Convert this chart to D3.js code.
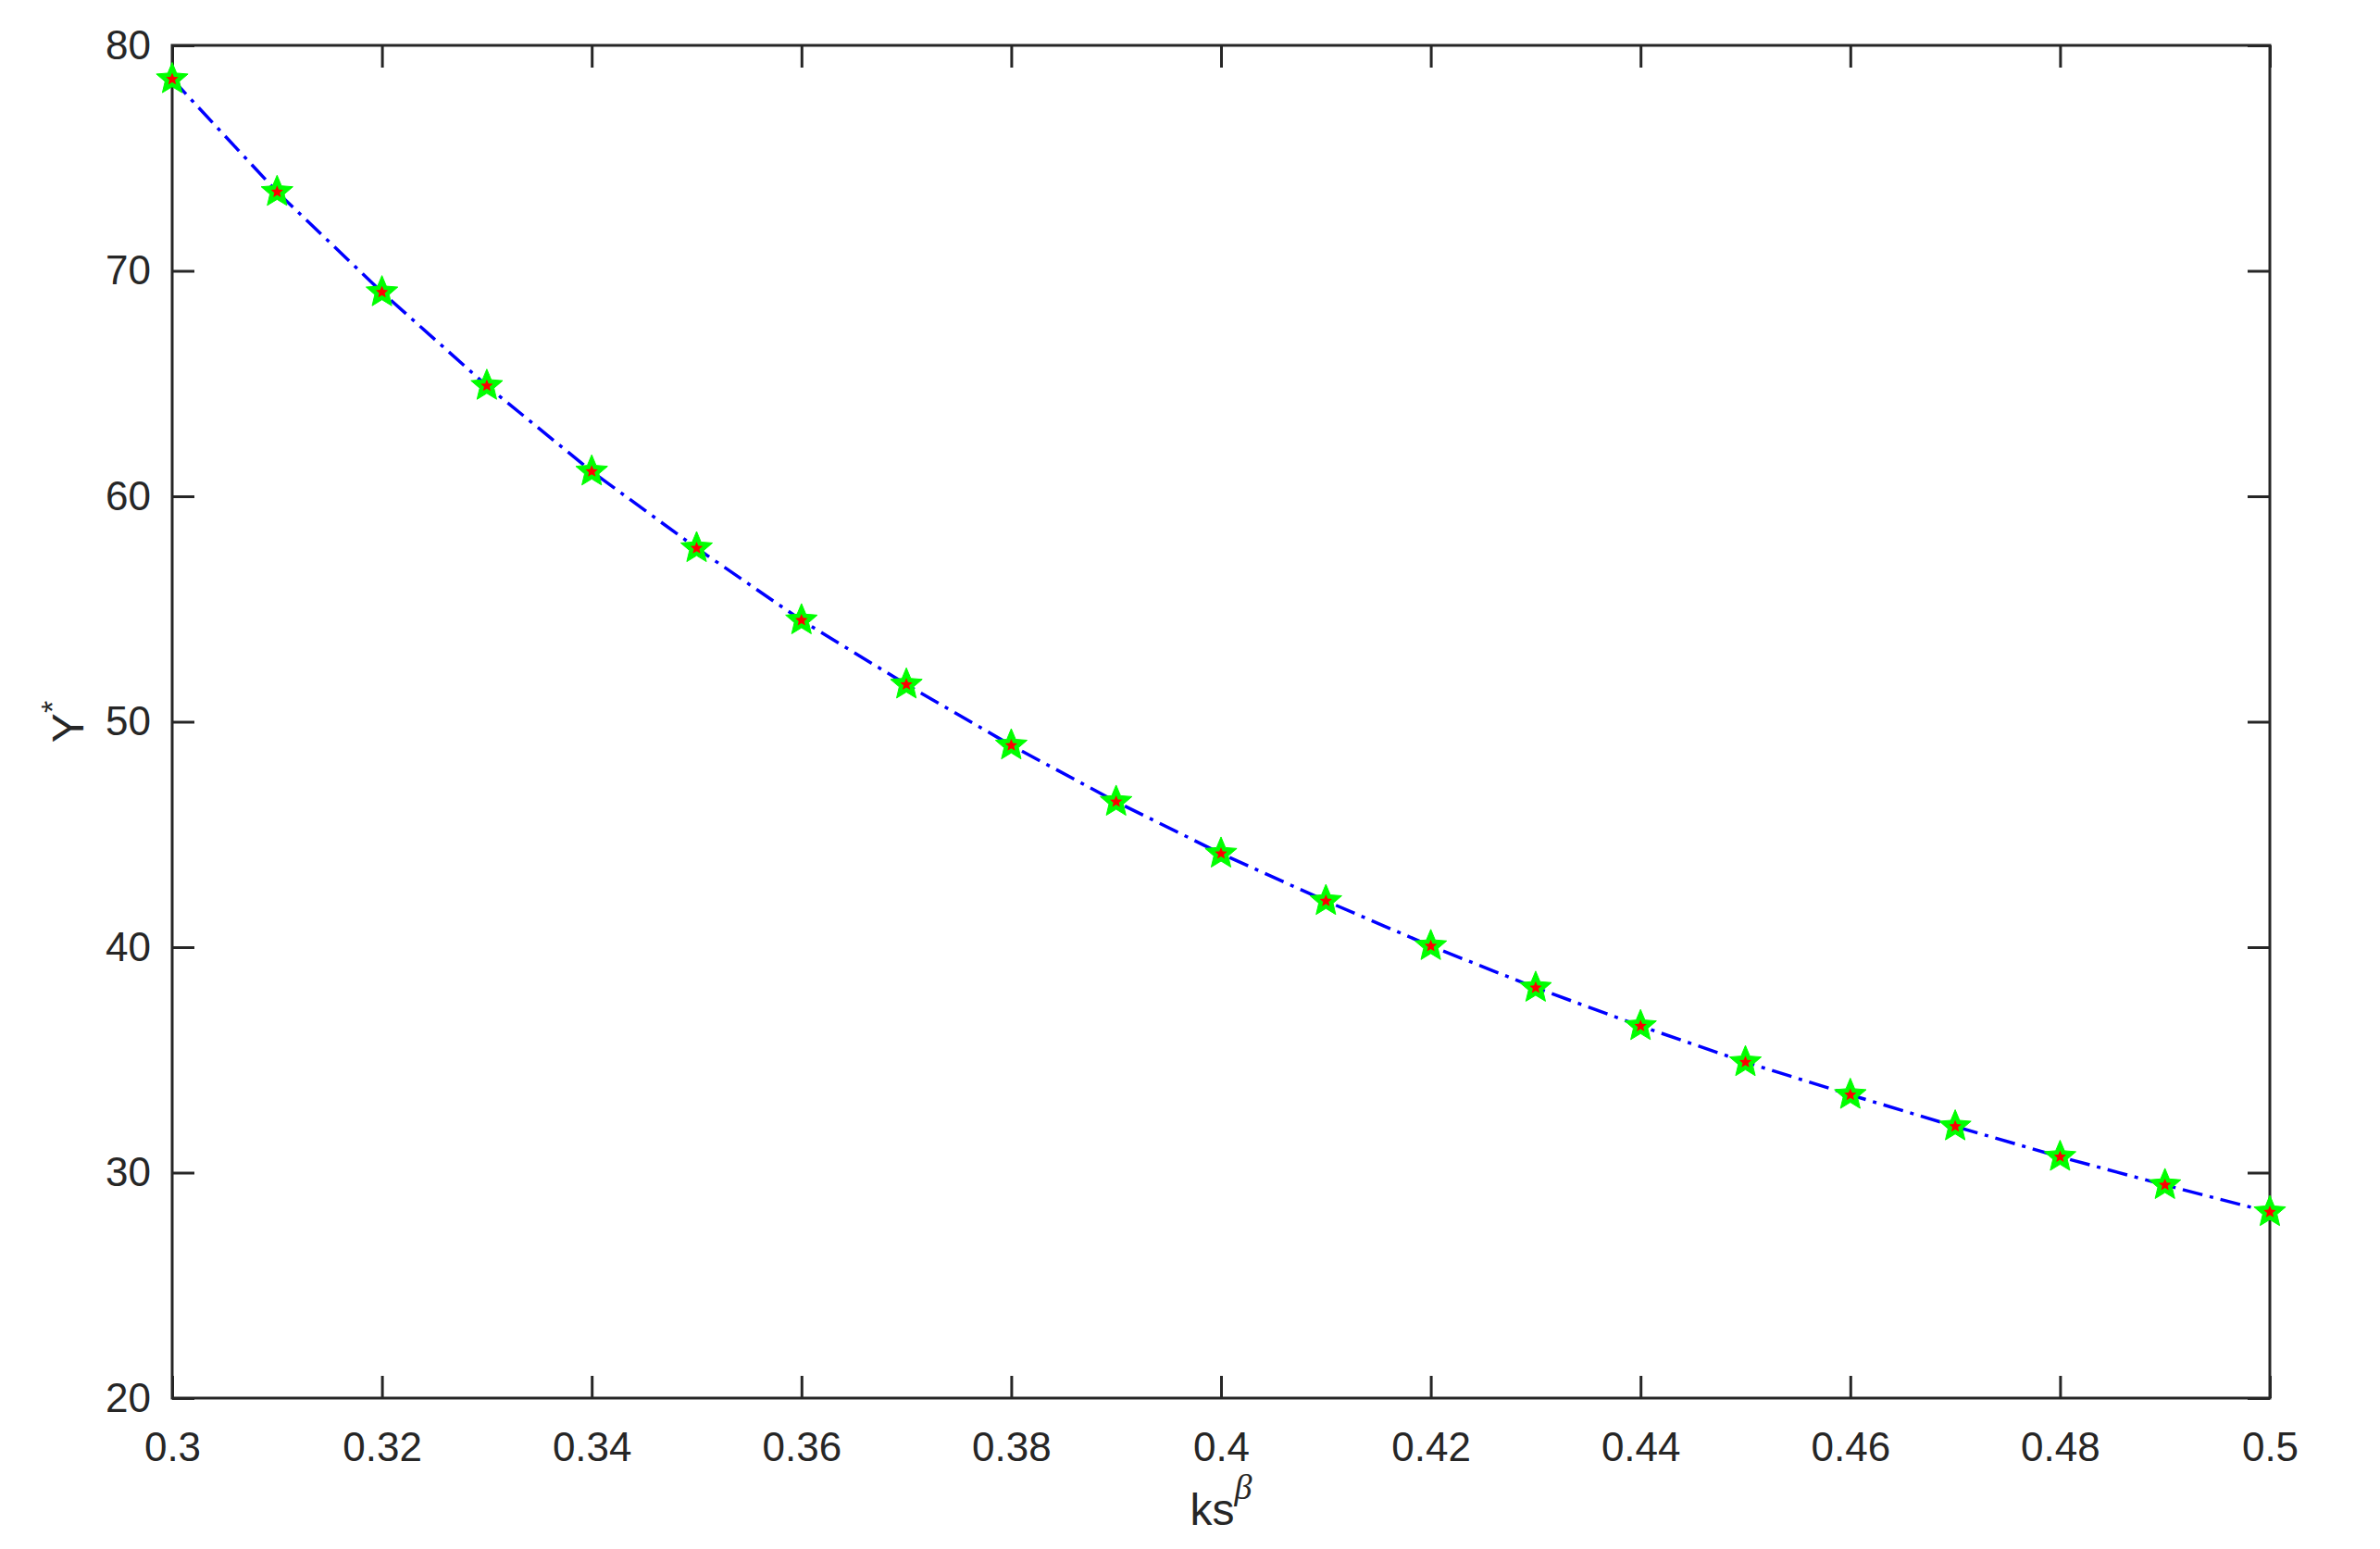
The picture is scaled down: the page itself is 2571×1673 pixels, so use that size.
<!DOCTYPE html>
<html>
<head>
<meta charset="utf-8">
<script src="https://cdn.jsdelivr.net/npm/d3@7"></script>
<style>
    body { margin: 0; background: #fff; }
    text { font-family: "Liberation Sans", Arial, Helvetica, sans-serif; fill: #262626; }
</style>
</head>
<body>
<div id="chart"></div>
<script>
// data
const ksBeta = [0.30, 0.31, 0.32, 0.33, 0.34, 0.35, 0.36, 0.37, 0.38, 0.39, 0.40,
                0.41, 0.42, 0.43, 0.44, 0.45, 0.46, 0.47, 0.48, 0.49, 0.50];
const yStar = [78.5, 73.5, 69.05, 64.9, 61.1, 57.7, 54.5, 51.65, 48.95, 46.45, 44.15,
               42.05, 40.05, 38.2, 36.5, 34.9, 33.45, 32.05, 30.7, 29.45, 28.25];

const xTicks = [0.30, 0.32, 0.34, 0.36, 0.38, 0.40, 0.42, 0.44, 0.46, 0.48, 0.50];
const xTickLabels = ["0.3", "0.32", "0.34", "0.36", "0.38", "0.4", "0.42", "0.44", "0.46", "0.48", "0.5"];
const yTicks = [20, 30, 40, 50, 60, 70, 80];

class LineVis {

    constructor(_parentElement) {
        this.parentElement = _parentElement;
        this.initVis();
    }

    initVis() {
        let vis = this;

        vis.margin = {top: 49, right: 119, bottom: 163, left: 186};
        vis.totalW = 2571;
        vis.totalH = 1673;
        vis.width = vis.totalW - vis.margin.left - vis.margin.right;
        vis.height = vis.totalH - vis.margin.top - vis.margin.bottom;

        vis.svg = d3.select("#" + vis.parentElement).append("svg")
            .attr("width", vis.totalW)
            .attr("height", vis.totalH)
            .append("g")
            .attr("transform", "translate(" + vis.margin.left + "," + vis.margin.top + ")");

        vis.xScale = d3.scaleLinear().domain([0.3, 0.5]).range([0, vis.width]);
        vis.yScale = d3.scaleLinear().domain([20, 80]).range([vis.height, 0]);

        vis.updateVis();
    }

    // five-pointed star centred on 0,0 (a bit chunkier than a true pentagram, like matlab's marker)
    starPath(R) {
        let r = R * 0.45;
        let pts = [];
        for (let i = 0; i < 10; i++) {
            let rad = i % 2 === 0 ? R : r;
            let a = -Math.PI / 2 + i * Math.PI / 5;
            pts.push([rad * Math.cos(a), rad * Math.sin(a)]);
        }
        return "M" + pts.map(p => p[0].toFixed(2) + "," + p[1].toFixed(2)).join("L") + "Z";
    }

    updateVis() {
        let vis = this;
        const axisColor = "#262626";
        const fontSize = 44;

        // axes (ticks inward, mirrored on top/right like MATLAB box on)
        let xAxisB = d3.axisBottom(vis.xScale).tickValues(xTicks)
            .tickSizeInner(-24).tickSizeOuter(0)
            .tickFormat((d, i) => xTickLabels[i]).tickPadding(37);
        let xAxisT = d3.axisTop(vis.xScale).tickValues(xTicks)
            .tickSizeInner(-24).tickSizeOuter(0).tickFormat("");
        let yAxisL = d3.axisLeft(vis.yScale).tickValues(yTicks)
            .tickSizeInner(-24).tickSizeOuter(0).tickPadding(23);
        let yAxisR = d3.axisRight(vis.yScale).tickValues(yTicks)
            .tickSizeInner(-24).tickSizeOuter(0).tickFormat("");

        let styleAxis = g => {
            g.selectAll(".domain").remove();
            g.selectAll(".tick line").attr("stroke", axisColor).attr("stroke-width", 3);
            g.selectAll(".tick text").attr("font-size", fontSize)
                .attr("font-family", "Liberation Sans, Arial, sans-serif").attr("fill", axisColor);
        };

        vis.svg.append("g").attr("transform", "translate(0," + vis.height + ")").call(xAxisB).call(styleAxis);
        vis.svg.append("g").call(xAxisT).call(styleAxis);
        vis.svg.append("g").call(yAxisL).call(styleAxis);
        vis.svg.append("g").attr("transform", "translate(" + vis.width + ",0)").call(yAxisR).call(styleAxis);

        // box
        vis.svg.append("rect")
            .attr("x", 0).attr("y", 0)
            .attr("width", vis.width).attr("height", vis.height)
            .attr("fill", "none")
            .attr("stroke", axisColor)
            .attr("stroke-width", 3);

        // dash-dot curve
        let line = d3.line()
            .x((d, i) => vis.xScale(ksBeta[i]))
            .y(d => vis.yScale(d));

        vis.svg.append("path")
            .datum(yStar)
            .attr("d", line)
            .attr("fill", "none")
            .attr("stroke", "#0000ff")
            .attr("stroke-width", 3.5)
            .attr("stroke-dasharray", "22,8,4,8");

        // markers: green star with small red star on top
        let pts = yStar.map((v, i) => ({x: ksBeta[i], y: v}));
        vis.svg.selectAll(".star-green").data(pts).enter().append("path")
            .attr("class", "star-green")
            .attr("d", vis.starPath(18))
            .attr("transform", d => "translate(" + vis.xScale(d.x) + "," + vis.yScale(d.y) + ")")
            .attr("fill", "#00ff00")
            .attr("stroke", "#00ff00")
            .attr("stroke-width", 1);
        vis.svg.selectAll(".star-red").data(pts).enter().append("path")
            .attr("class", "star-red")
            .attr("d", vis.starPath(7))
            .attr("transform", d => "translate(" + vis.xScale(d.x) + "," + vis.yScale(d.y) + ")")
            .attr("fill", "#ff0000");

        // axis labels
        let xl = vis.svg.append("text")
            .attr("x", vis.width / 2)
            .attr("y", vis.height + 137)
            .attr("text-anchor", "middle")
            .attr("font-size", 48);
        xl.append("tspan").text("ks");
        xl.append("tspan").attr("font-style", "italic").attr("font-size", 38)
            .attr("dy", -28).attr("font-family", "Liberation Serif, serif").text("β");

        let yl = vis.svg.append("text")
            .attr("transform", "translate(" + (90 - vis.margin.left) + "," + (vis.height / 2) + ") rotate(-90)")
            .attr("text-anchor", "middle")
            .attr("font-size", 48);
        yl.append("tspan").text("Y");
        yl.append("tspan").attr("font-size", 34).attr("dy", -22).text("*");
    }
}

new LineVis("chart");
</script>
</body>
</html>
